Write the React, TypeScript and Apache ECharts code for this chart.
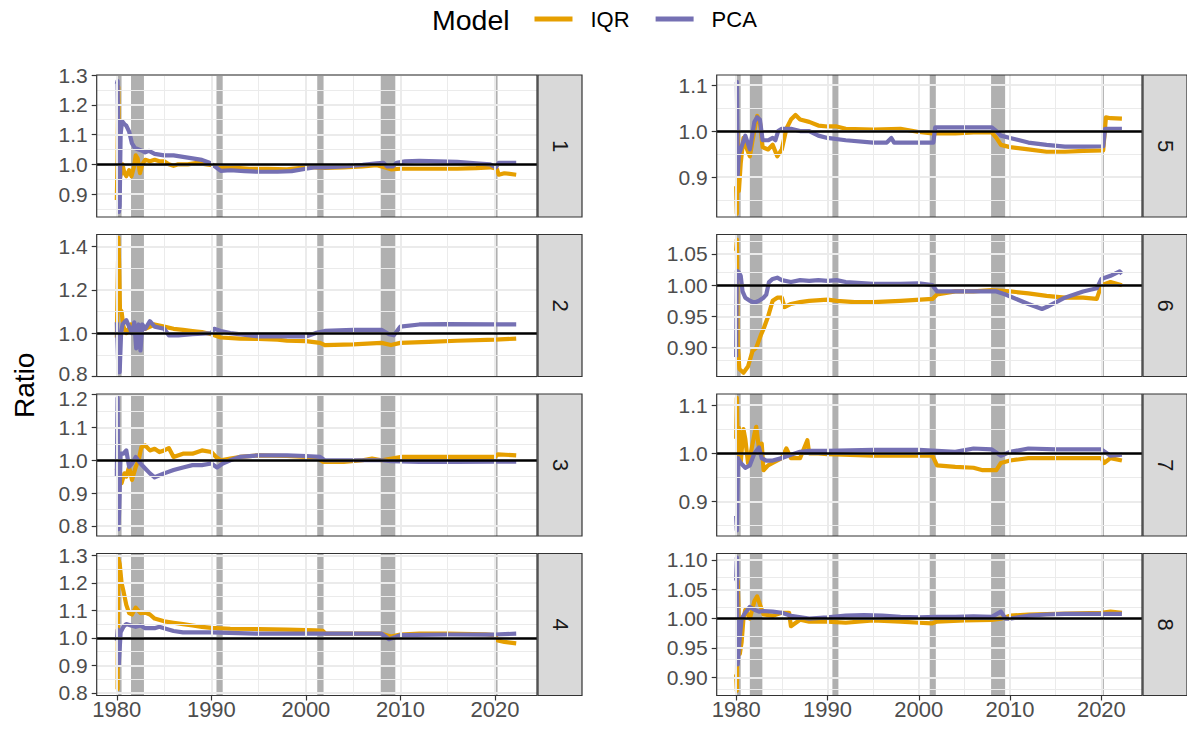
import React, { useEffect, useRef } from "react";
import * as echarts from "echarts";

const IQR_COLOR = "#E69F00";
const PCA_COLOR = "#7570B3";
const FONT = "'Liberation Sans', Arial, Helvetica, sans-serif";

const PANEL_LABELS = ["1", "2", "3", "4", "5", "6", "7", "8"];
const X_MIN = 1977.87;
const X_MAX = 2024.45;
const X_TICKS = [1980, 1990, 2000, 2010, 2020];
const X_MINOR = [1985, 1995, 2005, 2015];
const RECESSIONS: [number, number][] = [
  [1980.0, 1980.5],
  [1981.5, 1982.87],
  [1990.54, 1991.2],
  [2001.2, 2001.87],
  [2007.92, 2009.46],
  [2020.1, 2020.28],
];

const Y_RANGES: [number, number][] = [
  [0.823, 1.3],
  [0.8, 1.455],
  [0.769, 1.202],
  [0.79, 1.307],
  [0.813, 1.122],
  [0.854, 1.081],
  [0.8285, 1.123],
  [0.869, 1.111],
];
const Y_TICKS: number[][] = [
  [0.9, 1.0, 1.1, 1.2, 1.3],
  [0.8, 1.0, 1.2, 1.4],
  [0.8, 0.9, 1.0, 1.1, 1.2],
  [0.8, 0.9, 1.0, 1.1, 1.2, 1.3],
  [0.9, 1.0, 1.1],
  [0.9, 0.95, 1.0, 1.05],
  [0.9, 1.0, 1.1],
  [0.9, 0.95, 1.0, 1.05, 1.1],
];
const Y_MINOR: number[][] = [
  [0.85, 0.95, 1.05, 1.15, 1.25],
  [0.9, 1.1, 1.3],
  [0.85, 0.95, 1.05, 1.15],
  [0.85, 0.95, 1.05, 1.15, 1.25],
  [0.85, 0.95, 1.05],
  [0.875, 0.925, 0.975, 1.025, 1.075],
  [0.85, 0.95, 1.05],
  [0.875, 0.925, 0.975, 1.025, 1.075],
];
const Y_DECIMALS = [1, 1, 1, 1, 1, 2, 1, 2];

const IQR_1 = [[1980.0,0.88],[1980.08,1.02],[1980.15,1.26],[1980.22,1.1],[1980.3,0.95],[1980.45,0.97],[1980.6,1.0],[1980.8,0.97],[1981.0,0.96],[1981.3,0.98],[1981.55,0.96],[1981.8,0.99],[1982.0,1.03],[1982.2,1.02],[1982.45,0.97],[1982.7,1.0],[1983.0,1.015],[1983.5,1.01],[1984.0,1.015],[1984.5,1.01],[1985.0,1.01],[1985.5,1.0],[1986.0,0.995],[1986.5,1.0],[1987.5,1.0],[1988.5,1.005],[1989.5,1.0],[1990.5,0.995],[1991.0,0.99],[1992,0.99],[1994,0.985],[1996,0.985],[1998,0.983],[2000,0.99],[2001,0.99],[2002,0.988],[2004,0.99],[2006,0.993],[2007.5,0.997],[2008.3,0.99],[2009,0.983],[2010,0.985],[2012,0.985],[2014,0.985],[2016,0.985],[2018,0.987],[2019.5,0.99],[2020.2,0.985],[2020.4,0.965],[2021,0.97],[2022.25,0.965]];
const PCA_1 = [[1980.0,1.27],[1980.08,1.28],[1980.15,1.1],[1980.22,0.84],[1980.3,0.86],[1980.4,1.1],[1980.55,1.145],[1980.8,1.135],[1981.0,1.13],[1981.3,1.11],[1981.6,1.07],[1981.9,1.055],[1982.3,1.05],[1982.7,1.045],[1983.0,1.04],[1983.4,1.045],[1984.0,1.035],[1985.0,1.03],[1986.0,1.03],[1987.0,1.025],[1988.0,1.02],[1989.0,1.015],[1989.8,1.005],[1990.5,0.99],[1991.0,0.978],[1992.0,0.98],[1993.5,0.977],[1995,0.975],[1997,0.975],[1998.5,0.977],[2000,0.985],[2001,0.99],[2002,0.99],[2004,0.993],[2006,0.998],[2007.5,1.003],[2008.2,1.005],[2008.6,0.993],[2009.2,0.993],[2009.6,1.005],[2010.5,1.01],[2012,1.012],[2014,1.01],[2016,1.008],[2018,1.003],[2019.5,1.0],[2020.1,0.99],[2020.4,1.005],[2022.25,1.005]];
const IQR_2 = [[1980.0,0.98],[1980.08,1.2],[1980.17,1.44],[1980.25,1.3],[1980.33,1.11],[1980.5,1.1],[1980.7,1.03],[1981.0,1.0],[1981.5,1.04],[1982.0,1.03],[1982.5,1.02],[1983.0,1.02],[1984.0,1.04],[1985.0,1.03],[1986.0,1.02],[1987.0,1.015],[1988.0,1.01],[1989.0,1.005],[1990.0,0.995],[1991.0,0.98],[1993,0.975],[1995,0.973],[1997,0.97],[1998,0.965],[2000,0.963],[2001.5,0.955],[2002,0.945],[2005,0.948],[2008,0.955],[2009,0.945],[2010,0.955],[2013,0.96],[2016,0.965],[2020,0.97],[2022.25,0.975]];
const PCA_2 = [[1980.0,1.05],[1980.08,0.95],[1980.17,0.82],[1980.3,0.82],[1980.45,1.0],[1980.6,1.04],[1981.0,1.06],[1981.3,1.03],[1981.6,1.0],[1981.85,1.05],[1982.05,0.93],[1982.3,1.04],[1982.5,0.92],[1982.7,1.04],[1983.0,1.02],[1983.5,1.055],[1984.0,1.03],[1985.0,1.02],[1985.5,0.99],[1986.5,0.99],[1988,0.995],[1990,1.0],[1990.3,1.02],[1991,1.01],[1992,1.0],[1995,0.985],[1997,0.985],[2000,0.985],[2001,1.0],[2002,1.01],[2005,1.015],[2008,1.015],[2008.8,0.995],[2009.3,0.99],[2010,1.03],[2012,1.04],[2015,1.042],[2020,1.04],[2022.25,1.04]];
const IQR_3 = [[1980.0,0.97],[1980.15,1.0],[1980.3,0.96],[1980.5,0.93],[1980.8,0.96],[1981.0,0.95],[1981.3,0.98],[1981.6,0.94],[1982.0,0.98],[1982.3,1.0],[1982.6,1.04],[1983.0,1.045],[1983.5,1.03],[1984.0,1.035],[1984.5,1.025],[1985.0,1.03],[1985.5,1.037],[1986.0,1.01],[1987.0,1.02],[1988.0,1.02],[1989.0,1.03],[1990.0,1.025],[1990.5,1.01],[1991.0,1.0],[1992,1.005],[1993,1.01],[1995,1.015],[1998,1.013],[2000,1.01],[2001.3,1.005],[2001.8,0.995],[2004,0.995],[2006,1.0],[2007,1.005],[2008,1.0],[2010,1.01],[2015,1.01],[2020,1.01],[2020.3,1.018],[2022.25,1.015]];
const PCA_3 = [[1980.0,0.95],[1980.08,1.19],[1980.17,0.79],[1980.25,0.85],[1980.4,1.02],[1980.7,1.02],[1981.0,1.03],[1981.3,0.98],[1981.6,0.99],[1982.0,1.01],[1982.5,0.99],[1983.0,0.975],[1983.5,0.96],[1984.0,0.948],[1985.0,0.96],[1986.0,0.97],[1987.0,0.978],[1988.0,0.985],[1989.0,0.985],[1990.0,0.99],[1990.6,0.978],[1991.2,0.99],[1992.0,1.0],[1993.0,1.01],[1995,1.015],[1998,1.015],[2000,1.013],[2001.5,1.01],[2002,1.0],[2005,1.0],[2008,1.0],[2009,0.997],[2012,0.995],[2016,0.995],[2020,0.996],[2022.25,0.996]];
const IQR_4 = [[1980.0,0.813],[1980.08,0.813],[1980.15,1.29],[1980.3,1.27],[1980.5,1.2],[1980.7,1.17],[1981.0,1.12],[1981.3,1.09],[1981.6,1.085],[1982.0,1.11],[1982.5,1.09],[1983.0,1.092],[1983.5,1.085],[1984.0,1.07],[1985.0,1.06],[1986.0,1.055],[1987.0,1.05],[1988.0,1.045],[1989.0,1.04],[1990.0,1.036],[1992.0,1.033],[1995,1.032],[1998,1.03],[2001,1.027],[2001.8,1.025],[2002.1,1.015],[2005,1.015],[2008,1.015],[2009,1.005],[2010,1.012],[2012,1.015],[2015,1.015],[2019,1.013],[2020,1.01],[2020.3,0.99],[2021,0.985],[2022.25,0.98]];
const PCA_4 = [[1980.0,0.99],[1980.1,1.03],[1980.2,0.9],[1980.4,1.02],[1980.7,1.04],[1981.0,1.05],[1981.5,1.045],[1982.0,1.04],[1982.5,1.045],[1983.0,1.035],[1984.0,1.035],[1984.5,1.04],[1985.0,1.035],[1986.0,1.025],[1987.0,1.02],[1990.0,1.02],[1995,1.015],[2000,1.015],[2005,1.015],[2008,1.015],[2008.8,0.995],[2009.5,1.003],[2010,1.01],[2015,1.012],[2020,1.012],[2022.25,1.015]];
const IQR_5 = [[1980.0,0.88],[1980.08,0.82],[1980.17,1.0],[1980.3,0.87],[1980.5,0.93],[1980.8,0.985],[1981.0,0.97],[1981.5,0.945],[1981.8,0.98],[1982.3,1.033],[1982.6,1.02],[1982.9,0.965],[1983.5,0.96],[1984.0,0.97],[1984.5,0.945],[1985.0,0.96],[1985.5,1.005],[1986.0,1.025],[1986.5,1.035],[1987.0,1.025],[1988.0,1.02],[1989.0,1.012],[1990.0,1.01],[1991.0,1.01],[1992.0,1.005],[1995,1.003],[1998,1.005],[2000,0.998],[2001.5,0.995],[2004,0.995],[2006,0.997],[2008,0.997],[2008.5,0.985],[2009,0.97],[2010,0.965],[2012,0.96],[2014,0.955],[2016,0.955],[2018,0.957],[2020.2,0.958],[2020.5,1.03],[2021,1.028],[2022.25,1.027]];
const PCA_5 = [[1980.0,1.107],[1980.08,1.107],[1980.17,0.904],[1980.3,0.95],[1980.5,0.96],[1981.0,0.99],[1981.5,0.96],[1982.0,1.02],[1982.3,1.03],[1982.6,1.025],[1982.9,0.98],[1983.5,0.98],[1984.0,0.985],[1984.3,0.98],[1984.6,1.0],[1985.0,1.005],[1986.0,1.005],[1987,1.0],[1988,1.0],[1989,0.99],[1990,0.985],[1992,0.98],[1995,0.975],[1996.5,0.975],[1997,0.985],[1997.3,0.975],[1999,0.975],[2001.6,0.975],[2001.8,1.008],[2004,1.008],[2008,1.008],[2008.5,1.0],[2009,0.99],[2010,0.985],[2012,0.975],[2014,0.97],[2016,0.966],[2018,0.966],[2020.2,0.967],[2020.4,1.005],[2022.25,1.005]];
const IQR_6 = [[1980.0,1.055],[1980.08,1.073],[1980.17,0.908],[1980.35,0.866],[1980.8,0.86],[1981.3,0.87],[1981.8,0.895],[1982.2,0.9],[1982.7,0.92],[1983.0,0.93],[1983.5,0.95],[1984.0,0.975],[1984.5,0.98],[1985.0,0.98],[1985.3,0.965],[1986.0,0.97],[1987,0.973],[1988,0.975],[1990,0.977],[1991,0.975],[1993,0.973],[1995,0.973],[1998,0.975],[2001.5,0.978],[2002,0.985],[2004,0.99],[2006,0.99],[2008,0.992],[2010,0.99],[2012,0.987],[2014,0.983],[2016,0.98],[2018,0.98],[2019.5,0.978],[2020,1.0],[2021,1.005],[2022.25,1.0]];
const PCA_6 = [[1980.0,0.885],[1980.08,1.023],[1980.3,1.02],[1980.5,1.015],[1980.7,0.99],[1981.0,0.98],[1981.5,0.975],[1982.0,0.972],[1982.5,0.975],[1983.0,0.98],[1983.3,0.985],[1983.6,1.005],[1984.0,1.01],[1984.5,1.012],[1985.0,1.008],[1986.0,1.005],[1987,1.008],[1988,1.007],[1989,1.008],[1990,1.007],[1991,1.008],[1992,1.005],[1995,1.002],[1998,1.002],[2000,1.003],[2001.5,1.0],[2002,0.99],[2004,0.99],[2006,0.99],[2008.5,0.99],[2009.5,0.985],[2012,0.97],[2013.5,0.962],[2014,0.965],[2016,0.98],[2018,0.99],[2019.5,0.995],[2020,1.01],[2021,1.015],[2022,1.022],[2022.25,1.018]];
const IQR_7 = [[1980.0,1.03],[1980.08,1.115],[1980.17,0.99],[1980.3,1.053],[1980.5,0.98],[1980.8,1.05],[1981.0,1.03],[1981.3,0.98],[1981.6,1.0],[1982.0,1.04],[1982.2,1.055],[1982.5,1.01],[1982.8,1.02],[1983.0,0.965],[1983.5,0.975],[1984.0,0.98],[1985.0,0.99],[1985.5,1.01],[1986.0,0.99],[1987.0,0.99],[1987.8,1.027],[1988.0,1.0],[1989.0,1.0],[1990,0.998],[1995,0.995],[2000,0.995],[2001.5,0.995],[2002,0.975],[2004,0.972],[2006,0.97],[2007,0.965],[2008.5,0.965],[2009,0.98],[2010,0.985],[2012,0.99],[2015,0.99],[2020,0.99],[2020.3,0.98],[2021,0.99],[2022.25,0.985]];
const PCA_7 = [[1980.0,0.87],[1980.08,0.84],[1980.2,0.99],[1980.5,0.98],[1981.0,0.97],[1981.5,0.975],[1982.0,1.0],[1982.5,1.012],[1982.8,0.99],[1983.3,0.985],[1984.0,0.985],[1985.0,0.99],[1986.0,0.997],[1987.0,1.003],[1988.0,1.005],[1990,1.005],[1995,1.007],[2000,1.007],[2002,1.005],[2004,1.003],[2006,1.01],[2008,1.008],[2009,0.995],[2010,1.003],[2012,1.01],[2015,1.008],[2020,1.008],[2021,0.995],[2022.25,0.997]];
const IQR_8 = [[1980.0,0.905],[1980.08,0.877],[1980.17,1.064],[1980.4,0.94],[1980.6,0.96],[1980.8,1.0],[1981.0,1.015],[1981.5,1.0],[1982.0,1.03],[1982.3,1.038],[1982.7,1.02],[1983.0,1.007],[1984,1.005],[1985,1.01],[1985.8,1.01],[1986,0.987],[1987,0.998],[1988,0.995],[1990,0.995],[1992,0.993],[1995,0.997],[1998,0.995],[2000,0.993],[2001.5,0.992],[2002,0.995],[2005,0.997],[2008,0.998],[2009,1.0],[2010,1.005],[2012,1.007],[2015,1.008],[2020,1.01],[2021,1.012],[2022.25,1.01]];
const PCA_8 = [[1980.0,1.065],[1980.08,1.104],[1980.17,0.922],[1980.35,0.96],[1980.6,1.0],[1981.0,1.01],[1981.5,1.02],[1982.0,1.015],[1982.5,1.012],[1983,1.013],[1984,1.012],[1985,1.01],[1986,1.005],[1988,1.0],[1990,1.002],[1992,1.005],[1994,1.006],[1996,1.005],[1998,1.003],[2000,1.002],[2002,1.003],[2004,1.003],[2006,1.004],[2008,1.003],[2009,1.012],[2009.5,1.0],[2010,1.0],[2012,1.005],[2014,1.007],[2016,1.008],[2018,1.008],[2020,1.008],[2022.25,1.008]];

const IQR_DATA = [IQR_1, IQR_2, IQR_3, IQR_4, IQR_5, IQR_6, IQR_7, IQR_8];
const PCA_DATA = [PCA_1, PCA_2, PCA_3, PCA_4, PCA_5, PCA_6, PCA_7, PCA_8];

// layout (pixels)
const COL_X = [96.7, 716.7];
const COL_W = [440.3, 425.3];
const ROW_TOP = [75, 234.5, 394, 553.5];
const ROW_H = 142;
const STRIP_W = 44;
const TICK_FONT = 21;

function buildOption() {
  const grid: any[] = [];
  const xAxis: any[] = [];
  const yAxis: any[] = [];
  const series: any[] = [];
  const graphic: any[] = [];

  const labelBase = { color: "#4D4D4D", fontSize: TICK_FONT, fontFamily: FONT };

  for (let i = 0; i < 8; i++) {
    const col = i < 4 ? 0 : 1;
    const row = i % 4;
    const left = COL_X[col];
    const top = ROW_TOP[row];
    const width = COL_W[col];
    grid.push({ left, top, width, height: ROW_H, show: false, containLabel: false });
    const bottomRow = row === 3;
    xAxis.push({
      type: "value",
      gridIndex: i,
      min: X_MIN,
      max: X_MAX,
      axisLine: { show: false },
      splitLine: { show: false },
      axisTick: {
        show: bottomRow,
        customValues: X_TICKS,
        length: 5,
        lineStyle: { color: "#333333", width: 1.2 },
      },
      axisLabel: {
        show: bottomRow,
        customValues: X_TICKS,
        formatter: (v: number) => String(v),
        ...labelBase,
        fontSize: 22,
        lineHeight: 18,
        margin: 5,
      },
    });
    const dec = Y_DECIMALS[i];
    const ticks = Y_TICKS[i];
    const lo = ticks[0];
    const hi = ticks[ticks.length - 1];
    yAxis.push({
      type: "value",
      gridIndex: i,
      min: Y_RANGES[i][0],
      max: Y_RANGES[i][1],
      axisLine: { show: false },
      splitLine: { show: false },
      axisTick: {
        show: true,
        customValues: ticks,
        length: 5,
        lineStyle: { color: "#333333", width: 1.2 },
      },
      axisLabel: {
        customValues: ticks,
        formatter: (v: number) => {
          const s = v.toFixed(dec);
          // nudge labels that sit at the very edge next to a neighbouring panel
          if (row < 3 && Math.abs(v - lo) < 1e-9 && v - Y_RANGES[i][0] < 0.005) return "{up|" + s + "}";
          if (row > 0 && Math.abs(v - hi) < 1e-9 && Y_RANGES[i][1] - v < 0.005) return "{dn|" + s + "}";
          return s;
        },
        ...labelBase,
        lineHeight: 16,
        margin: 9,
        rich: {
          up: { ...labelBase, padding: [0, 0, 7, 0] },
          dn: { ...labelBase, padding: [7, 0, 0, 0] },
        },
      },
    });

    // grid lines
    const gridLines: any[] = [];
    Y_MINOR[i].forEach((v) => gridLines.push({ yAxis: v, lineStyle: { color: "#EBEBEB", width: 1 } }));
    X_MINOR.forEach((v) => gridLines.push({ xAxis: v, lineStyle: { color: "#EBEBEB", width: 1 } }));
    ticks.forEach((v) => gridLines.push({ yAxis: v, lineStyle: { color: "#EBEBEB", width: 2 } }));
    X_TICKS.forEach((v) => gridLines.push({ xAxis: v, lineStyle: { color: "#EBEBEB", width: 2 } }));
    series.push({
      type: "line",
      name: "grid" + i,
      xAxisIndex: i,
      yAxisIndex: i,
      data: [],
      z: 1,
      silent: true,
      markLine: {
        silent: true,
        symbol: "none",
        label: { show: false },
        lineStyle: { type: "solid" },
        data: gridLines,
      },
    });

    series.push({
      type: "line",
      name: "IQR",
      xAxisIndex: i,
      yAxisIndex: i,
      data: IQR_DATA[i],
      showSymbol: false,
      symbol: "none",
      z: 3,
      itemStyle: { color: IQR_COLOR },
      lineStyle: { color: IQR_COLOR, width: 4.2, join: "round" },
    });
    series.push({
      type: "line",
      name: "PCA",
      xAxisIndex: i,
      yAxisIndex: i,
      data: PCA_DATA[i],
      showSymbol: false,
      symbol: "none",
      z: 4,
      itemStyle: { color: PCA_COLOR },
      lineStyle: { color: PCA_COLOR, width: 4.2, join: "round" },
    });
    series.push({
      type: "line",
      name: "overlay" + i,
      xAxisIndex: i,
      yAxisIndex: i,
      data: [],
      z: 5,
      silent: true,
      markArea: {
        silent: true,
        itemStyle: { color: "rgba(0,0,0,0.31)" },
        data: RECESSIONS.map(([a, b]) => [{ xAxis: a }, { xAxis: b }]),
      },
      markLine: {
        silent: true,
        symbol: "none",
        label: { show: false },
        lineStyle: { color: "#000000", width: 2.6, type: "solid" },
        data: [{ yAxis: 1 }],
      },
    });

    // panel border
    graphic.push({
      type: "rect",
      z: 100,
      silent: true,
      shape: { x: left, y: top, width, height: ROW_H },
      style: { fill: "none", stroke: "#333333", lineWidth: 1.2 },
    });
    // strip
    graphic.push({
      type: "rect",
      z: 100,
      silent: true,
      shape: { x: left + width + 1, y: top, width: STRIP_W, height: ROW_H },
      style: { fill: "#D9D9D9", stroke: "#333333", lineWidth: 1.2 },
    });
    graphic.push({
      type: "text",
      z: 101,
      silent: true,
      x: left + width + 1 + STRIP_W / 2,
      y: top + ROW_H / 2,
      rotation: -Math.PI / 2,
      style: {
        text: PANEL_LABELS[i],
        fill: "#1A1A1A",
        fontSize: 22,
        fontFamily: FONT,
        align: "center",
        verticalAlign: "middle",
      },
    });
  }

  graphic.push({
    type: "text",
    z: 101,
    x: 24,
    y: (ROW_TOP[0] + ROW_TOP[3] + ROW_H) / 2,
    rotation: Math.PI / 2,
    style: {
      text: "Ratio",
      fill: "#000000",
      fontSize: 28,
      fontFamily: FONT,
      align: "center",
      verticalAlign: "middle",
    },
  });
  graphic.push({
    type: "text",
    z: 101,
    x: 432,
    y: 20,
    style: {
      text: "Model",
      fill: "#000000",
      fontSize: 28.5,
      fontFamily: FONT,
      align: "left",
      verticalAlign: "middle",
    },
  });

  return {
    animation: false,
    backgroundColor: "#FFFFFF",
    legend: {
      data: ["IQR", "PCA"],
      left: 534.5,
      top: 8,
      padding: 0,
      icon: "rect",
      itemWidth: 38,
      itemHeight: 5,
      itemGap: 26,
      selectedMode: false,
      textStyle: { fontSize: 22, color: "#000000", fontFamily: FONT, padding: [0, 0, 0, 13] },
    },
    grid,
    xAxis,
    yAxis,
    series,
    graphic,
  };
}

export default function App() {
  const ref = useRef<HTMLDivElement | null>(null);
  useEffect(() => {
    if (!ref.current) return;
    const chart = echarts.init(ref.current, undefined, { renderer: "svg" });
    chart.setOption(buildOption() as any);
    return () => chart.dispose();
  }, []);
  return (
    <div
      ref={ref}
      style={{ position: "fixed", left: 0, top: 0, width: 1187, height: 734, background: "#fff" }}
    />
  );
}
